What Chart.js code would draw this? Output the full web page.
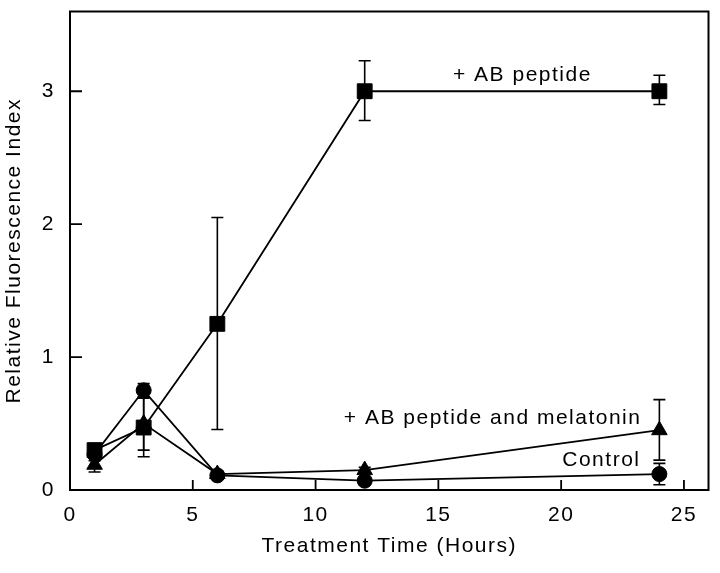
<!DOCTYPE html>
<html>
<head>
<meta charset="utf-8">
<script src="https://cdn.jsdelivr.net/npm/chart.js@4"></script>
<style>
  html, body { margin: 0; padding: 0; background: #fff; }
  #wrap { width: 720px; height: 573px; }
</style>
</head>
<body>
<div id="wrap"><canvas id="c" width="720" height="573"></canvas></div>
<script>
// ---- data ----
const hours = [1, 3, 6, 12, 24];
const peptideMean = [0.30, 0.47, 1.25, 3.00, 3.00];
const peptideLow  = [0.25, 0.25, 0.455, 2.78, 2.90];
const peptideHigh = [0.35, 0.69, 2.05, 3.23, 3.12];
const melatoninMean = [0.19, 0.50, 0.12, 0.15, 0.45];
const melatoninLow  = [0.135, 0.30, 0.10, 0.13, 0.225];
const melatoninHigh = [0.24, 0.70, 0.14, 0.17, 0.68];
const controlMean = [0.27, 0.75, 0.11, 0.07, 0.12];
const controlLow  = [0.22, 0.70, 0.09, 0.05, 0.04];
const controlHigh = [0.32, 0.80, 0.13, 0.09, 0.20];
const xTickValues = [0, 5, 10, 15, 20, 25];
const yTickValues = [0, 1, 2, 3];
const xInnerTicks = [5, 10, 15, 20, 25];
const yInnerTicks = [1, 2, 3];
const labels = [
  { text: '+ AB peptide', x: 21.25, y: 3.077 },
  { text: '+ AB peptide and melatonin', x: 23.27, y: 0.493 },
  { text: 'Control', x: 23.23, y: 0.179 }
];

const FONT = '"Liberation Sans", Arial, Helvetica, sans-serif';
const SPACING = '1.5px';

function pts(xs, ys) { return xs.map((x, i) => ({ x: x, y: ys[i] })); }

const errorSets = [
  { low: peptideLow, high: peptideHigh },
  { low: melatoninLow, high: melatoninHigh },
  { low: controlLow, high: controlHigh }
];

const spacingPlugin = {
  id: 'spacing',
  beforeDraw(chart) { chart.ctx.letterSpacing = SPACING; }
};

const errorBarPlugin = {
  id: 'errorBars',
  beforeDatasetsDraw(chart) {
    const ctx = chart.ctx;
    const xs = chart.scales.x, ys = chart.scales.y;
    ctx.save();
    ctx.strokeStyle = '#000';
    ctx.lineWidth = 1.6;
    errorSets.forEach(set => {
      hours.forEach((h, i) => {
        const px = xs.getPixelForValue(h);
        const lo = ys.getPixelForValue(set.low[i]);
        const hi = ys.getPixelForValue(set.high[i]);
        ctx.beginPath();
        ctx.moveTo(px, lo); ctx.lineTo(px, hi);
        ctx.moveTo(px - 6, lo); ctx.lineTo(px + 6, lo);
        ctx.moveTo(px - 6, hi); ctx.lineTo(px + 6, hi);
        ctx.stroke();
      });
    });
    ctx.restore();
  }
};

const framePlugin = {
  id: 'frame',
  afterDraw(chart) {
    const ctx = chart.ctx;
    const a = chart.chartArea;
    const xs = chart.scales.x, ys = chart.scales.y;
    ctx.save();
    ctx.strokeStyle = '#000';
    ctx.lineWidth = 2;
    ctx.strokeRect(a.left, a.top, a.right - a.left, a.bottom - a.top);
    ctx.lineWidth = 1.8;
    ctx.beginPath();
    xInnerTicks.forEach(v => {
      const px = xs.getPixelForValue(v);
      ctx.moveTo(px, a.bottom); ctx.lineTo(px, a.bottom - 10);
    });
    yInnerTicks.forEach(v => {
      const py = ys.getPixelForValue(v);
      ctx.moveTo(a.left, py); ctx.lineTo(a.left + 12, py);
    });
    ctx.stroke();
    // annotations
    ctx.fillStyle = '#000';
    ctx.font = '21px ' + FONT;
    ctx.letterSpacing = SPACING;
    ctx.textAlign = 'right';
    ctx.textBaseline = 'alphabetic';
    labels.forEach(l => {
      ctx.fillText(l.text, xs.getPixelForValue(l.x), ys.getPixelForValue(l.y));
    });
    ctx.restore();
  }
};

const common = {
  showLine: true,
  borderColor: '#000',
  backgroundColor: '#000',
  pointBorderColor: '#000',
  pointBackgroundColor: '#000',
  borderWidth: 1.8,
  pointBorderWidth: 1,
  tension: 0,
  fill: false
};

new Chart(document.getElementById('c'), {
  type: 'scatter',
  data: {
    datasets: [
      Object.assign({ label: '+ AB peptide', data: pts(hours, peptideMean), pointStyle: 'rect', pointRadius: 10.5 }, common),
      Object.assign({ label: '+ AB peptide and melatonin', data: pts(hours, melatoninMean), pointStyle: 'triangle', pointRadius: 9 }, common),
      Object.assign({ label: 'Control', data: pts(hours, controlMean), pointStyle: 'circle', pointRadius: 7.5 }, common)
    ]
  },
  options: {
    responsive: false,
    animation: false,
    devicePixelRatio: 1,
    layout: { padding: { top: 8, right: 11, left: 0, bottom: 0 } },
    plugins: { legend: { display: false }, tooltip: { enabled: false } },
    scales: {
      x: {
        type: 'linear',
        min: 0, max: 26,
        afterBuildTicks(s) { s.ticks = xTickValues.map(v => ({ value: v })); },
        afterFit(s) { s.height = 83; s.paddingLeft = 0; s.paddingRight = 0; },
        grid: { display: false, drawTicks: false },
        border: { display: false },
        ticks: { color: '#000', font: { family: FONT, size: 21 }, padding: 13, maxRotation: 0 },
        title: { display: true, text: 'Treatment Time (Hours)', color: '#000', font: { family: FONT, size: 21 }, padding: { top: 0, bottom: 14 } }
      },
      y: {
        type: 'linear',
        min: 0, max: 3.6,
        afterBuildTicks(s) { s.ticks = yTickValues.map(v => ({ value: v })); },
        afterFit(s) { s.width = 70; s.paddingTop = 0; s.paddingBottom = 0; },
        grid: { display: false, drawTicks: false },
        border: { display: false },
        ticks: { color: '#000', font: { family: FONT, size: 21 }, padding: 15 },
        title: { display: true, text: 'Relative Fluorescence Index', color: '#000', font: { family: FONT, size: 21 }, padding: { top: 2, bottom: 0 } }
      }
    }
  },
  plugins: [spacingPlugin, errorBarPlugin, framePlugin]
});
</script>
</body>
</html>
